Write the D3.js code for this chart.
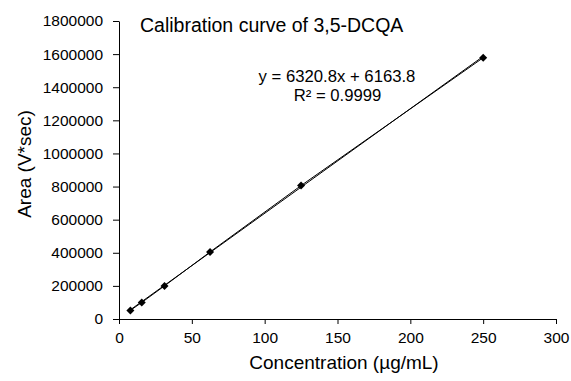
<!DOCTYPE html>
<html>
  <head>
    <meta charset="utf-8">
    <title>Calibration curve of 3,5-DCQA</title>
    <style>
      body { margin: 0; background: #fff; }
      svg text { font-family: "Liberation Sans", Arial, sans-serif; fill: #000; }
      .tick text { font-size: 15.5px; }
      .tick line, .domain { stroke: #000; }
    </style>
  </head>
  <body>
    <svg id="chart" width="571" height="381"></svg>

    <script src="https://cdnjs.cloudflare.com/ajax/libs/d3/7.8.5/d3.min.js"></script>
    <script>
      // calibration points
      var concentration = [7.8125, 15.625, 31.25, 62.5, 125, 250];
      var area = [52000, 100000, 200000, 405000, 806000, 1578000];
      var xTicks = [0, 50, 100, 150, 200, 250, 300];
      var yTicks = [0, 200000, 400000, 600000, 800000, 1000000, 1200000, 1400000, 1600000, 1800000];
      var slope = 6320.8, intercept = 6163.8;

      var svg = d3.select("#chart");
      var margin = {top: 21, left: 119};
      var plotW = 437, plotH = 298;

      var g = svg.append("g").attr("transform", "translate(" + margin.left + "," + margin.top + ")");

      var x = d3.scaleLinear().domain([0, 300]).range([0, plotW]);
      var y = d3.scaleLinear().domain([0, 1800000]).range([plotH, 0]);

      g.append("g")
        .attr("transform", "translate(0," + plotH + ")")
        .call(d3.axisBottom(x).tickValues(xTicks).tickSize(5).tickSizeOuter(0).tickPadding(8));

      g.append("g")
        .call(d3.axisLeft(y).tickValues(yTicks).tickSize(6).tickSizeOuter(0).tickPadding(10).tickFormat(d3.format("d")));

      // trendline across the measured range
      var xs = d3.extent(concentration);
      g.append("line")
        .attr("x1", x(xs[0])).attr("y1", y(slope * xs[0] + intercept))
        .attr("x2", x(xs[1])).attr("y2", y(slope * xs[1] + intercept))
        .attr("stroke", "#000").attr("stroke-width", 1);

      var pts = concentration.map(function(c, i) { return [c, area[i]]; });

      g.append("path")
        .datum(pts)
        .attr("fill", "none")
        .attr("stroke", "#000")
        .attr("stroke-width", 1)
        .attr("d", d3.line().x(function(d) { return x(d[0]); }).y(function(d) { return y(d[1]); }));

      g.selectAll("path.marker")
        .data(pts)
        .enter()
        .append("path")
        .attr("class", "marker")
        .attr("transform", function(d) { return "translate(" + x(d[0]) + "," + y(d[1]) + ")"; })
        .attr("d", "M0,-4L4,0L0,4L-4,0Z")
        .attr("fill", "#000");

      // title and labels
      svg.append("text")
        .attr("x", 140).attr("y", 32)
        .style("font-size", "19.5px")
        .text("Calibration curve of 3,5-DCQA");

      svg.append("text")
        .attr("x", 337).attr("y", 81.5)
        .attr("text-anchor", "middle")
        .style("font-size", "16.7px")
        .text("y = 6320.8x + 6163.8");

      svg.append("text")
        .attr("x", 337.5).attr("y", 100.5)
        .attr("text-anchor", "middle")
        .style("font-size", "16.7px")
        .text("R² = 0.9999");

      svg.append("text")
        .attr("x", 344).attr("y", 369)
        .attr("text-anchor", "middle")
        .style("font-size", "19px")
        .text("Concentration (µg/mL)");

      svg.append("text")
        .attr("transform", "translate(31,164) rotate(-90)")
        .attr("text-anchor", "middle")
        .style("font-size", "19px")
        .text("Area (V*sec)");
    </script>
  </body>
</html>
